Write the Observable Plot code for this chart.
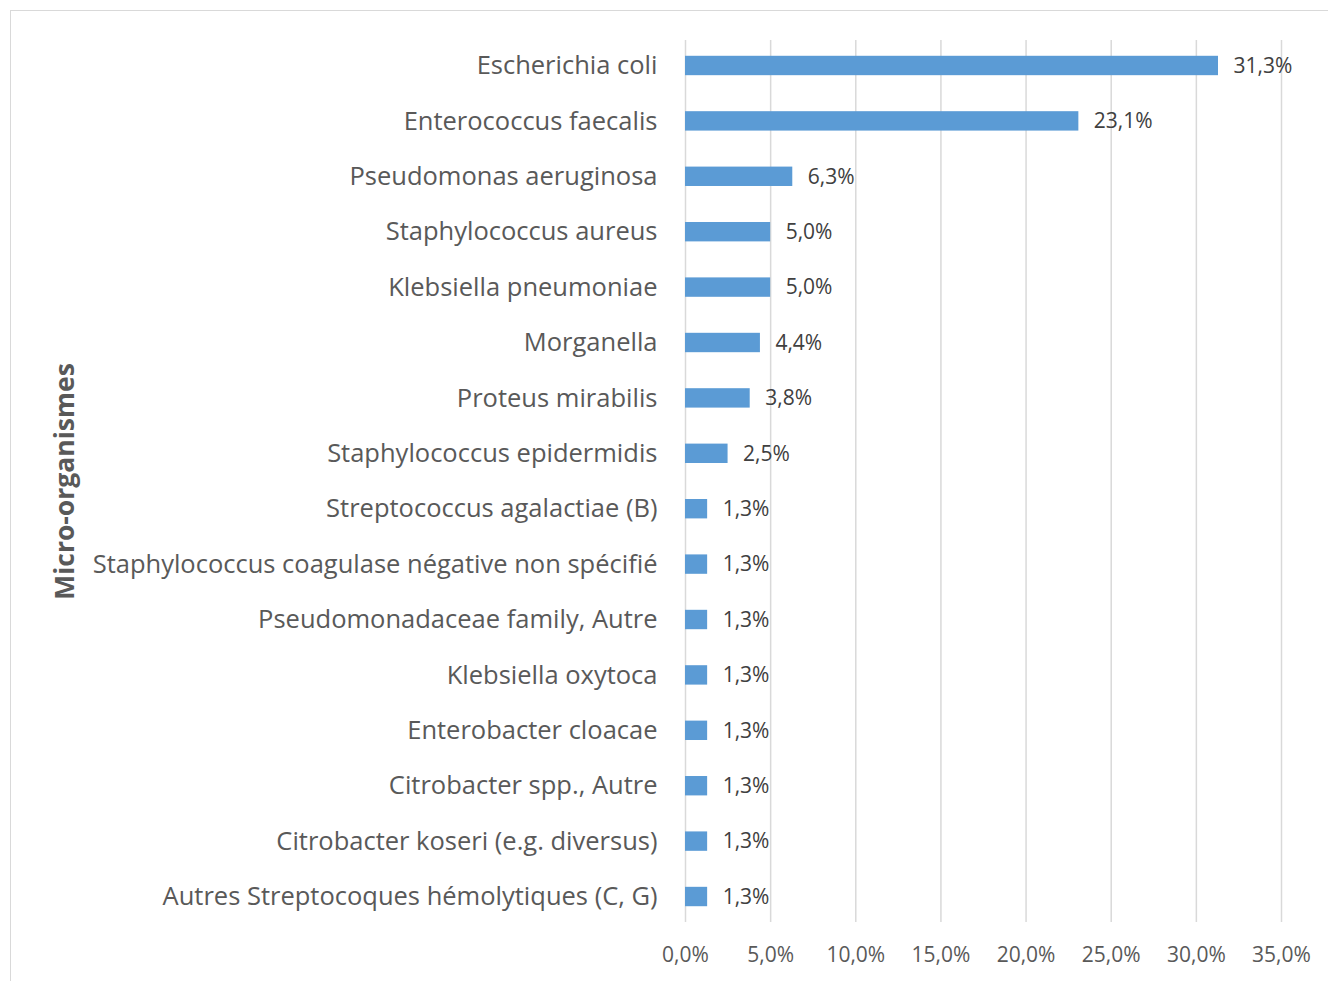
<!DOCTYPE html>
<html><head><meta charset="utf-8">
<script src="https://cdn.jsdelivr.net/npm/d3@7"></script>
<script src="https://cdn.jsdelivr.net/npm/@observablehq/plot@0.6"></script>
<style>
html,body{margin:0;padding:0;background:#fff;overflow:hidden;}
#wrap{position:relative;width:1328px;height:981px;}
#border{position:absolute;left:10px;top:10px;width:1330px;height:990px;border:1.5px solid #d9d9d9;box-sizing:border-box;}
#chart{position:absolute;left:0;top:0;}
</style></head>
<body>
<div id="wrap"><div id="border"></div><div id="chart"></div></div>
<script>
const categories = [
  "Escherichia coli",
  "Enterococcus faecalis",
  "Pseudomonas aeruginosa",
  "Staphylococcus aureus",
  "Klebsiella pneumoniae",
  "Morganella",
  "Proteus mirabilis",
  "Staphylococcus epidermidis",
  "Streptococcus agalactiae (B)",
  "Staphylococcus coagulase négative non spécifié",
  "Pseudomonadaceae family, Autre",
  "Klebsiella oxytoca",
  "Enterobacter cloacae",
  "Citrobacter spp., Autre",
  "Citrobacter koseri (e.g. diversus)",
  "Autres Streptocoques hémolytiques (C, G)"
];
const values = [31.3, 23.1, 6.3, 5.0, 5.0, 4.4, 3.8, 2.5, 1.3, 1.3, 1.3, 1.3, 1.3, 1.3, 1.3, 1.3];
const xTicks = [0, 5, 10, 15, 20, 25, 30, 35];
const axisTitle = "Micro-organismes";

const data = categories.map((name, i) => ({name, value: values[i]}));
const fmt = d => d.toFixed(1).replace(".", ",") + "%";

const chart = Plot.plot({
  width: 1328,
  height: 981,
  marginLeft: 685,
  marginRight: 47,
  marginTop: 40,
  marginBottom: 59,
  style: {fontFamily: "'Open Sans', Lato, sans-serif", color: "#595959", background: "transparent"},
  x: {domain: [0, 35]},
  y: {domain: categories, paddingInner: 0.65, paddingOuter: 0.285, round: false},
  marks: [
    Plot.gridX(xTicks, {stroke: "#d9d9d9", strokeOpacity: 1, strokeWidth: 1.5}),
    Plot.barX(data, {x: "value", y: "name", fill: "#5B9BD5"}),
    Plot.text(data, {x: "value", y: "name", text: d => fmt(d.value), dx: 15, textAnchor: "start", fontSize: 21, fill: "#404040"}),
    Plot.axisX({ticks: xTicks, tickFormat: fmt, tickSize: 0, tickPadding: 25, fontSize: 21, label: null}),
    Plot.axisY({tickSize: 0, tickPadding: 28, fontSize: 25.5, label: null}),
    Plot.text([axisTitle], {frameAnchor: "left", dx: -620, rotate: -90, textAnchor: "middle", fontSize: 26.5, fontWeight: "bold", fill: "#595959"})
  ]
});
document.getElementById("chart").appendChild(chart);
</script>
</body></html>
